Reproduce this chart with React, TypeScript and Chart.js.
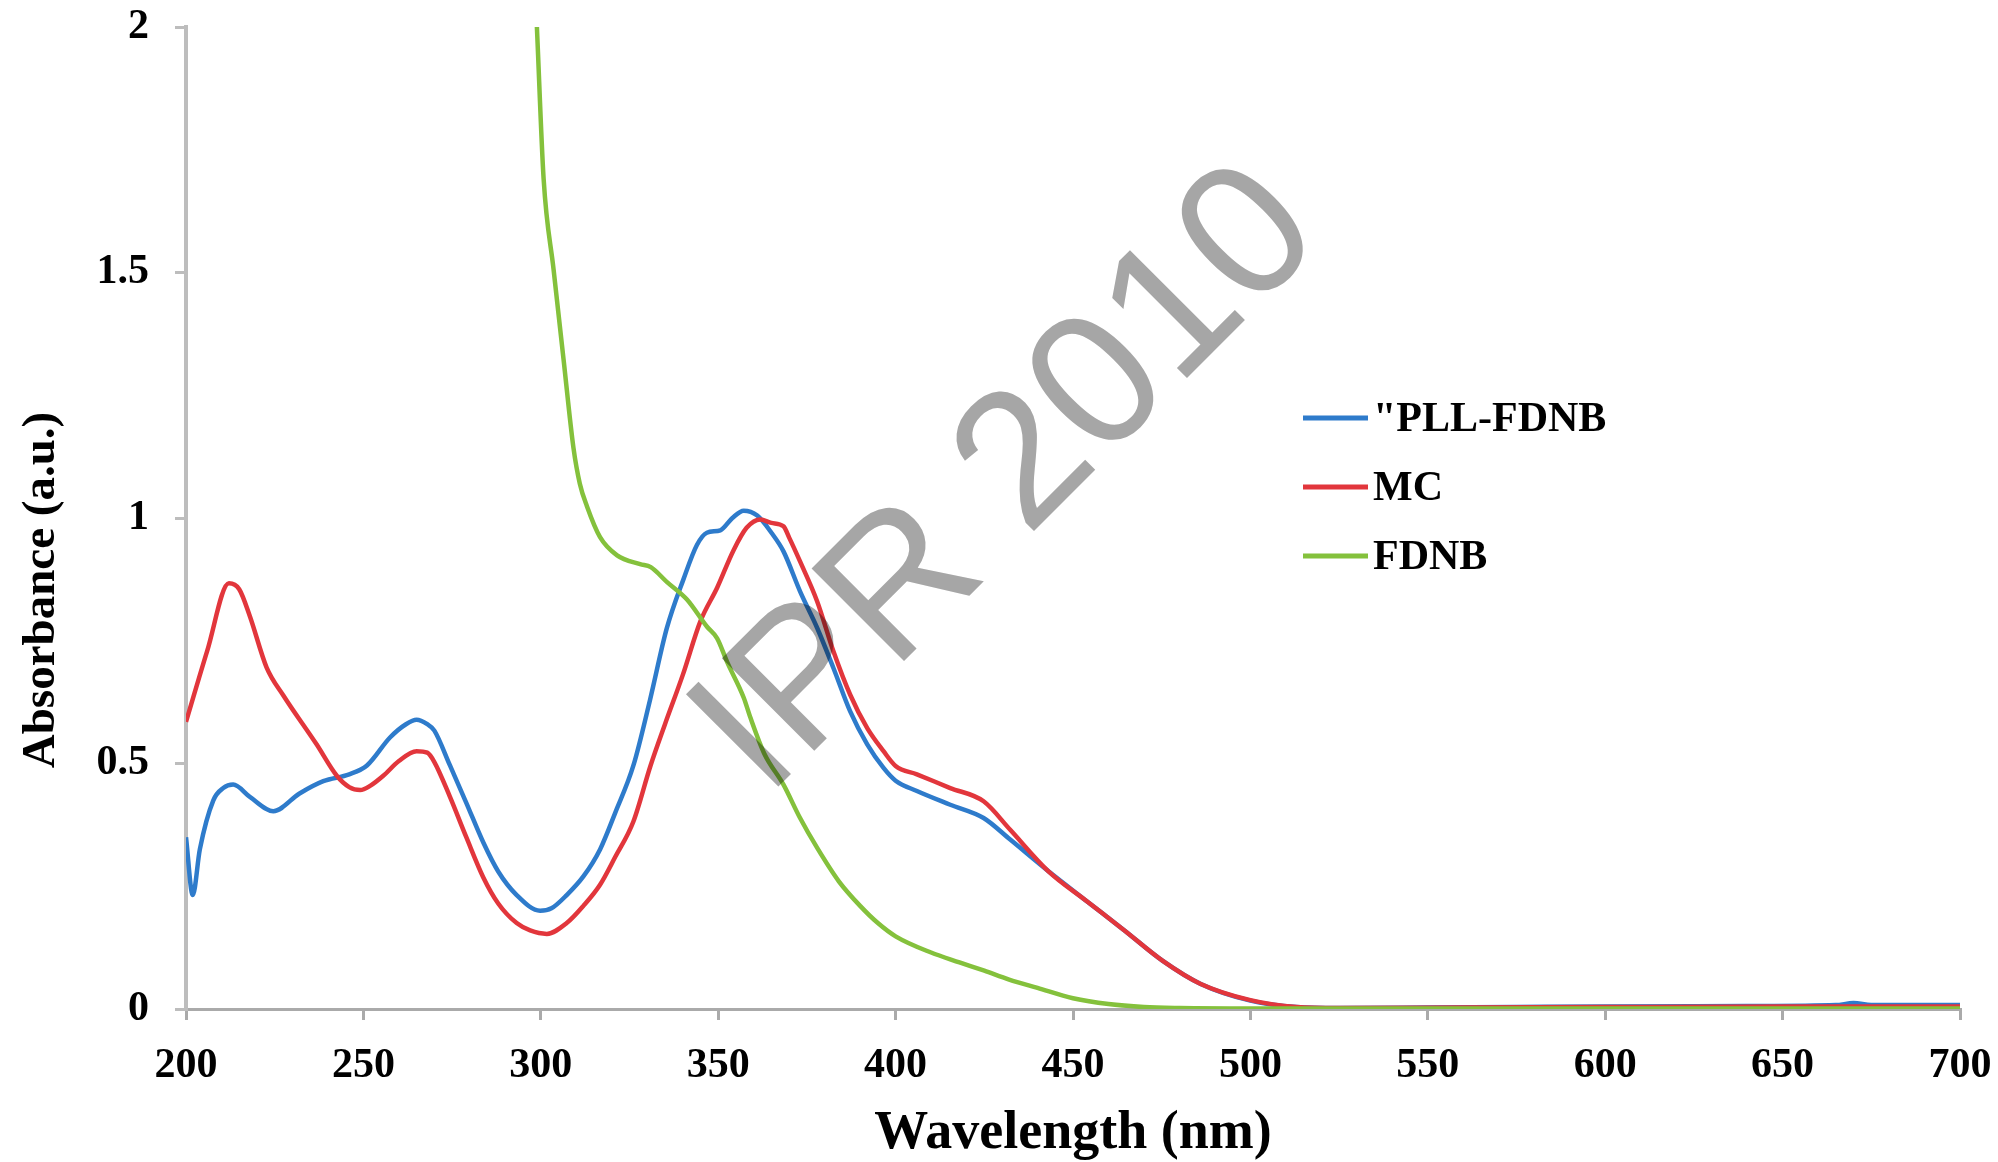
import React, { useEffect, useRef } from "react";
import { Chart, registerables } from "chart.js";

Chart.register(...registerables);

// ---------- data ----------
const xTicks = [200, 250, 300, 350, 400, 450, 500, 550, 600, 650, 700];
const yTicks = [0, 0.5, 1, 1.5, 2];

const seriesLabels = ['"PLL-FDNB', "MC", "FDNB"];
const seriesColors = ["#2E7BCB", "#E2363C", "#84C13C"];

const pllWavelength = [200, 201.9, 203.9, 207.7, 210.5, 213.3, 218, 224.6, 232, 238.7, 246, 251, 257.5, 262, 265, 268, 270, 274.4, 279, 283.8, 288, 293.2, 299.8, 303, 307.3, 312, 316.7, 321, 326.1, 330.8, 335.5, 340.2, 344, 346.8, 350.6, 354, 357.2, 361, 365, 368.4, 373.1, 377.9, 382.5, 387.2, 392, 396.6, 400, 406, 415.4, 424.8, 432.3, 443, 453.8, 464.5, 475.3, 486, 500, 513, 525, 550, 575, 600, 640, 665, 670, 675, 700];
const pllAbsorbance = [0.35, 0.232, 0.325, 0.425, 0.45, 0.457, 0.432, 0.403, 0.439, 0.464, 0.478, 0.496, 0.553, 0.58, 0.589, 0.58, 0.567, 0.496, 0.42, 0.339, 0.28, 0.232, 0.2, 0.205, 0.232, 0.27, 0.325, 0.4, 0.496, 0.63, 0.775, 0.875, 0.945, 0.97, 0.975, 1.0, 1.015, 1.005, 0.97, 0.932, 0.85, 0.776, 0.694, 0.606, 0.539, 0.491, 0.465, 0.444, 0.416, 0.389, 0.345, 0.281, 0.22, 0.16, 0.098, 0.051, 0.017, 0.004, 0.002, 0.003, 0.004, 0.005, 0.006, 0.008, 0.012, 0.008, 0.008];

const mcWavelength = [200, 206, 212.1, 215, 218, 222.7, 227.4, 236.8, 242.5, 246, 249.1, 252, 255.6, 260, 265, 268, 270, 274.4, 279, 283.8, 288, 293.2, 297, 301.7, 307.3, 312, 316.7, 321, 326.1, 330.9, 335, 340, 345, 349.7, 354.3, 358, 361.9, 365, 368.4, 370, 373.1, 377.9, 382.5, 387.2, 392, 396.6, 400, 406, 415.4, 424.8, 432.3, 443, 453.8, 464.5, 475.3, 486, 500, 513, 525, 560, 600, 650, 700];
const mcAbsorbance = [0.585, 0.73, 0.867, 0.855, 0.8, 0.696, 0.639, 0.539, 0.475, 0.452, 0.446, 0.455, 0.475, 0.505, 0.525, 0.522, 0.503, 0.432, 0.35, 0.268, 0.215, 0.175, 0.16, 0.153, 0.175, 0.21, 0.253, 0.31, 0.382, 0.495, 0.58, 0.68, 0.79, 0.858, 0.934, 0.98, 0.997, 0.99, 0.983, 0.96, 0.911, 0.83, 0.728, 0.64, 0.572, 0.525, 0.495, 0.478, 0.45, 0.423, 0.365, 0.281, 0.22, 0.16, 0.098, 0.051, 0.018, 0.004, 0.002, 0.003, 0.004, 0.005, 0.005];

const fdnbWavelength = [298.9, 300.8, 303.6, 306.4, 309.2, 311, 313, 316.7, 321.5, 328, 331, 335.5, 341.2, 346.8, 349.7, 352.5, 357.2, 359.1, 363, 368.4, 373, 377.9, 384, 390, 395, 400, 410, 418, 425, 432, 440, 450, 460, 470, 480, 500, 550, 600, 650, 700];
const fdnbAbsorbance = [2.0, 1.69, 1.506, 1.324, 1.143, 1.07, 1.024, 0.961, 0.924, 0.906, 0.9, 0.87, 0.834, 0.779, 0.755, 0.707, 0.634, 0.593, 0.52, 0.457, 0.39, 0.328, 0.26, 0.21, 0.175, 0.148, 0.115, 0.095, 0.078, 0.06, 0.043, 0.022, 0.01, 0.004, 0.002, 0.001, 0.001, 0.001, 0.001, 0.001];

const xTitle = "Wavelength (nm)";
const yTitle = "Absorbance (a.u.)";
const watermark = "IPR 2010";

const W = 1998;
const H = 1162;

function toPoints(xs: number[], ys: number[]) {
  return xs.map((x, i) => ({ x, y: ys[i] }));
}

export default function App() {
  const ref = useRef<HTMLCanvasElement | null>(null);

  useEffect(() => {
    const canvas = ref.current;
    if (!canvas) return;

    const overlay = {
      id: "overlay",
      afterDraw(chart: any) {
        const ctx = chart.ctx as CanvasRenderingContext2D;
        const area = chart.chartArea;
        ctx.save();
        // axis titles
        ctx.fillStyle = "#000";
        ctx.textAlign = "center";
        ctx.textBaseline = "middle";
        ctx.font = "bold 54px 'Liberation Serif', serif";
        ctx.fillText(xTitle, (area.left + area.right) / 2, 1134);
        ctx.save();
        ctx.translate(42, 590);
        ctx.rotate(-Math.PI / 2);
        ctx.font = "bold 47px 'Liberation Serif', serif";
        ctx.fillText(yTitle, 0, 0);
        ctx.restore();

        // legend
        const legendY = [418, 487, 556];
        ctx.font = "bold 42px 'Liberation Serif', serif";
        ctx.textAlign = "left";
        chart.data.datasets.forEach((ds: any, i: number) => {
          const y = legendY[i];
          ctx.strokeStyle = ds.borderColor;
          ctx.lineWidth = 5;
          ctx.beginPath();
          ctx.moveTo(1303, y);
          ctx.lineTo(1368, y);
          ctx.stroke();
          ctx.fillStyle = "#000";
          ctx.fillText(ds.label, 1373, y + 2);
        });

        // watermark
        ctx.globalCompositeOperation = "multiply";
        ctx.translate(766, 799);
        ctx.rotate(-Math.PI / 4);
        ctx.fillStyle = "#A6A6A6";
        ctx.font = "190px 'Liberation Sans', Arial, sans-serif";
        ctx.textAlign = "left";
        ctx.textBaseline = "alphabetic";
        ctx.fillText(watermark, 0, 0);
        ctx.restore();
      },
    };

    const chart = new Chart(canvas, {
      type: "line",
      data: {
        datasets: [
          {
            label: seriesLabels[0],
            data: toPoints(pllWavelength, pllAbsorbance),
            borderColor: seriesColors[0],
            order: 2,
          },
          {
            label: seriesLabels[1],
            data: toPoints(mcWavelength, mcAbsorbance),
            borderColor: seriesColors[1],
            order: 1,
          },
          {
            label: seriesLabels[2],
            data: toPoints(fdnbWavelength, fdnbAbsorbance),
            borderColor: seriesColors[2],
            order: 0,
          },
        ] as any,
      },
      options: {
        responsive: false,
        animation: false,
        events: [],
        datasets: {
          line: {
            borderWidth: 4.5,
            pointRadius: 0,
            fill: false,
            cubicInterpolationMode: "monotone",
          },
        } as any,
        layout: { padding: { left: 0, top: 27, right: 38, bottom: 0 } },
        plugins: {
          legend: { display: false },
          tooltip: { enabled: false },
        },
        scales: {
          x: {
            type: "linear",
            min: xTicks[0],
            max: xTicks[xTicks.length - 1],
            afterBuildTicks: (scale: any) => {
              scale.ticks = xTicks.map((v) => ({ value: v }));
            },
            afterFit: (scale: any) => {
              scale.height = 153;
              scale.paddingLeft = 0;
              scale.paddingRight = 0;
            },
            grid: {
              drawOnChartArea: false,
              drawTicks: true,
              tickLength: 11,
              color: "#aaaaaa",
              lineWidth: 3,
            },
            border: { display: true, color: "#aaaaaa", width: 3 },
            ticks: {
              color: "#000",
              padding: 21,
              maxRotation: 0,
              autoSkip: false,
              font: { family: "'Liberation Serif', serif", size: 42, weight: "bold" },
              callback: (v: any) => String(v),
            },
          },
          y: {
            type: "linear",
            min: yTicks[0],
            max: yTicks[yTicks.length - 1],
            afterBuildTicks: (scale: any) => {
              scale.ticks = yTicks.map((v) => ({ value: v }));
            },
            afterFit: (scale: any) => {
              scale.width = 186;
              scale.paddingTop = 0;
              scale.paddingBottom = 0;
            },
            grid: {
              drawOnChartArea: false,
              drawTicks: true,
              tickLength: 11,
              color: "#bdbdbd",
              lineWidth: 3,
            },
            border: { display: true, color: "#bdbdbd", width: 4 },
            ticks: {
              color: "#000",
              padding: 26,
              autoSkip: false,
              font: { family: "'Liberation Serif', serif", size: 42, weight: "bold" },
              callback: (v: any) => String(v),
            },
          },
        } as any,
      },
      plugins: [overlay],
    });

    return () => chart.destroy();
  }, []);

  return (
    <div style={{ position: "absolute", left: 0, top: 0, width: W, height: H, background: "#fff" }}>
      <canvas ref={ref} width={W} height={H} style={{ display: "block", width: W, height: H }} />
    </div>
  );
}
